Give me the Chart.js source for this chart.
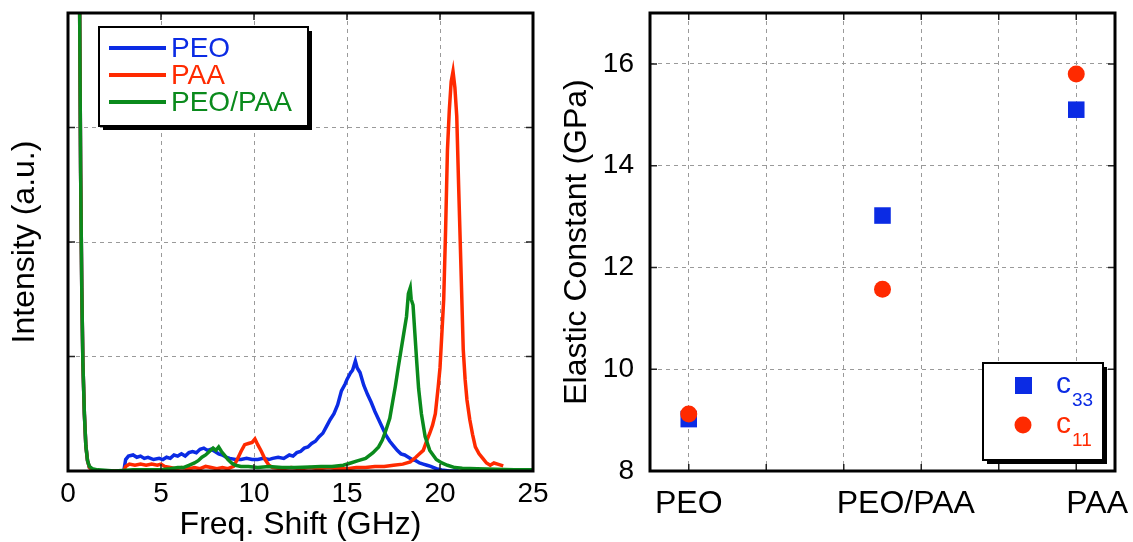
<!DOCTYPE html>
<html>
<head>
<meta charset="utf-8">
<title>Brillouin spectra and elastic constants</title>
<script src="https://cdn.jsdelivr.net/npm/chart.js@4.4.0/dist/chart.umd.min.js"></script>
<style>
  html, body { margin: 0; padding: 0; background: #fff; }
  #wrap { position: relative; width: 1133px; height: 542px; overflow: hidden; }
  #spec { position: absolute; left: 0; top: 0; }
  #elastic { position: absolute; left: 560px; top: 0; }
</style>
</head>
<body>
<div id="wrap">
  <canvas id="spec" width="560" height="542" style="width:560px;height:542px"></canvas>
  <canvas id="elastic" width="573" height="542" style="width:573px;height:542px"></canvas>
</div>
<script>
// Spectra: [frequency shift (GHz), intensity (a.u.)]
const peoSpectrum = [
  [0.55, 5], [0.62, 4.2], [0.68, 2.6], [0.74, 1.6], [0.8, 0.95], [0.88, 0.5], [0.96, 0.22], [1.05, 0.09],
  [1.15, 0.03], [1.3, 0.01], [1.6, 0], [2.2, 0], [3.0, 0], [3.1, 0.1], [3.25, 0.13], [3.5, 0.14],
  [3.7, 0.12], [3.9, 0.13], [4.1, 0.11], [4.3, 0.12], [4.6, 0.1], [4.9, 0.11], [5.1, 0.1], [5.3, 0.12],
  [5.5, 0.11], [5.7, 0.14], [5.9, 0.13], [6.1, 0.15], [6.3, 0.13], [6.5, 0.16], [6.7, 0.17], [6.9, 0.16],
  [7.1, 0.19], [7.3, 0.2], [7.5, 0.18], [7.7, 0.19], [7.9, 0.17], [8.1, 0.15], [8.3, 0.14], [8.5, 0.12],
  [8.7, 0.11], [9.0, 0.1], [9.3, 0.1], [9.6, 0.11], [9.9, 0.1], [10.2, 0.1], [10.5, 0.11], [10.8, 0.1],
  [11.0, 0.11], [11.3, 0.12], [11.6, 0.11], [11.9, 0.14], [12.1, 0.13], [12.3, 0.16], [12.5, 0.17],
  [12.7, 0.2], [12.9, 0.21], [13.1, 0.24], [13.3, 0.26], [13.5, 0.3], [13.7, 0.33], [13.9, 0.39],
  [14.1, 0.45], [14.3, 0.5], [14.5, 0.58], [14.7, 0.7], [14.9, 0.76], [15.0, 0.8], [15.1, 0.83],
  [15.2, 0.86], [15.3, 0.88], [15.45, 0.96], [15.55, 0.9], [15.7, 0.86], [15.9, 0.75], [16.1, 0.67],
  [16.3, 0.6], [16.5, 0.52], [16.7, 0.45], [16.9, 0.38], [17.1, 0.31], [17.3, 0.26], [17.5, 0.22],
  [17.7, 0.18], [17.9, 0.15], [18.1, 0.14], [18.3, 0.12], [18.5, 0.1], [18.7, 0.09], [18.9, 0.07],
  [19.1, 0.06], [19.3, 0.05], [19.5, 0.04], [19.8, 0.02], [20.1, 0.01], [20.5, 0], [21.0, 0]
];
const paaSpectrum = [
  [0.55, 5], [0.62, 4.2], [0.68, 2.6], [0.74, 1.6], [0.8, 0.95], [0.88, 0.5], [0.96, 0.22], [1.05, 0.09],
  [1.15, 0.03], [1.3, 0.01], [1.6, 0], [2.2, 0], [3.0, 0], [3.1, 0.04], [3.3, 0.06], [3.6, 0.05],
  [3.9, 0.06], [4.2, 0.05], [4.5, 0.06], [4.8, 0.05], [5.0, 0.06], [5.2, 0.04], [5.5, 0.03], [5.8, 0.02],
  [6.1, 0.03], [6.5, 0.02], [6.8, 0.03], [7.1, 0.02], [7.4, 0.04], [7.7, 0.03], [8.0, 0.02], [8.3, 0.03],
  [8.6, 0.02], [8.9, 0.04], [9.1, 0.1], [9.3, 0.17], [9.5, 0.23], [9.7, 0.24], [9.9, 0.25], [10.05, 0.28],
  [10.2, 0.23], [10.4, 0.17], [10.6, 0.1], [10.8, 0.05], [11.0, 0.03], [11.5, 0.02], [12.0, 0.03],
  [12.5, 0.02], [13.0, 0.03], [13.5, 0.02], [14.0, 0.03], [14.5, 0.02], [15.0, 0.02], [15.5, 0.03],
  [16.0, 0.03], [16.5, 0.04], [17.0, 0.04], [17.5, 0.05], [18.0, 0.06], [18.4, 0.08], [18.7, 0.12],
  [18.9, 0.15], [19.1, 0.18], [19.3, 0.27], [19.45, 0.33], [19.6, 0.4], [19.75, 0.5], [19.9, 0.73],
  [20.0, 0.9], [20.1, 1.2], [20.2, 1.5], [20.3, 2.1], [20.4, 2.8], [20.5, 3.15], [20.6, 3.4], [20.7, 3.49],
  [20.8, 3.35], [20.9, 3.1], [21.0, 2.5], [21.1, 1.93], [21.25, 1.06], [21.35, 0.8], [21.45, 0.62],
  [21.6, 0.45], [21.75, 0.32], [21.9, 0.21], [22.1, 0.15], [22.3, 0.11], [22.5, 0.07], [22.7, 0.05],
  [22.9, 0.07], [23.1, 0.06], [23.4, 0.045]
];
const blendSpectrum = [
  [0.55, 5], [0.62, 4.2], [0.68, 2.6], [0.74, 1.6], [0.8, 0.95], [0.88, 0.5], [0.96, 0.22], [1.05, 0.09],
  [1.15, 0.04], [1.3, 0.02], [1.6, 0.01], [2.5, 0], [3.5, 0.01], [4.5, 0.01], [5.0, 0.01], [5.5, 0.02],
  [5.9, 0.03], [6.2, 0.03], [6.5, 0.05], [6.8, 0.07], [7.0, 0.09], [7.2, 0.12], [7.4, 0.14], [7.6, 0.17],
  [7.8, 0.2], [7.95, 0.18], [8.1, 0.21], [8.25, 0.17], [8.4, 0.14], [8.6, 0.1], [8.8, 0.07], [9.0, 0.05],
  [9.3, 0.04], [9.7, 0.04], [10.2, 0.03], [10.8, 0.04], [11.5, 0.03], [12.2, 0.03], [13.0, 0.035],
  [13.6, 0.04], [14.2, 0.04], [14.8, 0.05], [15.2, 0.07], [15.6, 0.09], [16.0, 0.11], [16.4, 0.16],
  [16.7, 0.21], [16.9, 0.27], [17.1, 0.36], [17.3, 0.46], [17.45, 0.6], [17.6, 0.74], [17.75, 0.9],
  [17.9, 1.05], [18.05, 1.2], [18.2, 1.35], [18.3, 1.55], [18.4, 1.6], [18.45, 1.5], [18.55, 1.45],
  [18.65, 1.2], [18.75, 0.95], [18.85, 0.72], [19.0, 0.5], [19.2, 0.3], [19.45, 0.18], [19.8, 0.1],
  [20.1, 0.07], [20.4, 0.05], [20.8, 0.03], [21.2, 0.025], [22, 0.02], [23, 0.015], [24, 0.01], [25, 0.01]
];
const freqTicks = [0, 5, 10, 15, 20, 25];
const intensityTicks = [0, 1, 2, 3, 4];

// Elastic constants (GPa) per sample
const materials = ['PEO', 'PEO/PAA', 'PAA'];
const materialPos = [1, 3.5, 6];
const labelPos = [1, 3.8, 6.27];
const c33 = [9.02, 13.02, 15.1];
const c11 = [9.12, 11.57, 15.8];
const gridPos = [1, 2, 3, 4, 5, 6];
const elasticTicks = [8, 10, 12, 14, 16];

const FONT = "'Liberation Sans', Arial, Helvetica, sans-serif";
const BLUE = '#0b2be4';
const RED = '#ff2a00';
const GREEN = '#0a8a1c';
const GRID = { color: '#9a9a9a', lineWidth: 1, drawTicks: false };
const DASH = { display: false, dash: [4, 4] };

const toXY = arr => arr.map(([x, y]) => ({ x, y }));
const setTicks = values => scale => { scale.ticks = values.map(v => ({ value: v })); };
// fixed axis sizes, and no extra room for half-labels at the ends
const fixHeight = h => s => { s.height = h; s.paddingLeft = s.paddingRight = 0; };
const fixWidth = w => s => { s.width = w; s.paddingTop = s.paddingBottom = 0; };

// black frame round the plot area with short inward ticks
const plotFrame = {
  id: 'plotFrame',
  afterDatasetsDraw(chart) {
    const { ctx, chartArea: a, scales } = chart;
    ctx.save();
    ctx.strokeStyle = '#222';
    ctx.lineWidth = 1.5;
    ctx.beginPath();
    scales.x.ticks.forEach(t => {
      const px = scales.x.getPixelForValue(t.value);
      ctx.moveTo(px, a.bottom); ctx.lineTo(px, a.bottom - 7);
      ctx.moveTo(px, a.top); ctx.lineTo(px, a.top + 7);
    });
    scales.y.ticks.forEach(t => {
      const py = scales.y.getPixelForValue(t.value);
      ctx.moveTo(a.left, py); ctx.lineTo(a.left + 7, py);
      ctx.moveTo(a.right, py); ctx.lineTo(a.right - 7, py);
    });
    ctx.stroke();
    ctx.strokeStyle = '#000';
    ctx.lineWidth = 3;
    ctx.strokeRect(a.left, a.top, a.right - a.left, a.bottom - a.top);
    ctx.restore();
  }
};

function shadowBox(ctx, x, y, w, h) {
  ctx.fillStyle = '#000';
  ctx.fillRect(x + 4, y + 4, w, h);
  ctx.fillStyle = '#fff';
  ctx.fillRect(x, y, w, h);
  ctx.strokeStyle = '#000';
  ctx.lineWidth = 2;
  ctx.strokeRect(x, y, w, h);
}

// legend for the spectra: line sample + coloured name
const lineLegend = {
  id: 'lineLegend',
  afterDraw(chart) {
    const ctx = chart.ctx;
    ctx.save();
    shadowBox(ctx, 99, 27, 209, 99);
    ctx.font = '28px ' + FONT;
    ctx.textBaseline = 'middle';
    ctx.textAlign = 'left';
    chart.data.datasets.forEach((ds, i) => {
      const y = 48 + i * 27;
      ctx.strokeStyle = ds.borderColor;
      ctx.lineWidth = 4;
      ctx.beginPath(); ctx.moveTo(109, y); ctx.lineTo(166, y); ctx.stroke();
      ctx.fillStyle = ds.borderColor;
      ctx.fillText(ds.label, 171, y + 1);
    });
    ctx.restore();
  }
};

// legend for the elastic constants: marker + c with subscript
const markerLegend = {
  id: 'markerLegend',
  afterDraw(chart) {
    const ctx = chart.ctx;
    ctx.save();
    shadowBox(ctx, 423, 363, 120, 97);
    chart.data.datasets.forEach((ds, i) => {
      const y = 385 + i * 40;
      ctx.fillStyle = ds.backgroundColor;
      if (ds.pointStyle === 'rect') {
        ctx.fillRect(455, y - 8, 17, 17);
      } else {
        ctx.beginPath(); ctx.arc(463, y, 8.5, 0, Math.PI * 2); ctx.fill();
      }
      const [main, sub] = ds.label.split('_');
      ctx.textBaseline = 'alphabetic';
      ctx.textAlign = 'left';
      ctx.font = '30px ' + FONT;
      ctx.fillText(main, 496, y + 8);
      ctx.font = '19px ' + FONT;
      ctx.fillText(sub, 512, y + 21);
    });
    ctx.restore();
  }
};

// sample names under the elastic constant plot
const sampleLabels = {
  id: 'sampleLabels',
  afterDraw(chart) {
    const { ctx, scales } = chart;
    ctx.save();
    ctx.font = '32px ' + FONT;
    ctx.fillStyle = '#000';
    ctx.textAlign = 'center';
    ctx.textBaseline = 'middle';
    materials.forEach((m, i) => ctx.fillText(m, scales.x.getPixelForValue(labelPos[i]), 504));
    ctx.restore();
  }
};

Chart.defaults.font.family = FONT;
Chart.defaults.color = '#000';

new Chart(document.getElementById('spec'), {
  type: 'line',
  data: {
    datasets: [
      { label: 'PEO', data: toXY(peoSpectrum), borderColor: BLUE, order: 3 },
      { label: 'PAA', data: toXY(paaSpectrum), borderColor: RED, order: 2 },
      { label: 'PEO/PAA', data: toXY(blendSpectrum), borderColor: GREEN, order: 1 }
    ].map(d => ({ ...d, borderWidth: 3.5, pointRadius: 0, tension: 0, fill: false }))
  },
  options: {
    responsive: false, animation: false, devicePixelRatio: 1,
    layout: { padding: { top: 13, right: 27, left: 0, bottom: 0 } },
    plugins: { legend: { display: false }, tooltip: { enabled: false } },
    scales: {
      x: {
        type: 'linear', min: 0, max: 25,
        afterBuildTicks: setTicks(freqTicks),
        afterFit: fixHeight(71),
        ticks: { font: { size: 28 }, padding: 6, maxRotation: 0, autoSkip: false },
        grid: GRID, border: DASH,
        title: { display: true, text: 'Freq. Shift (GHz)', font: { size: 32, lineHeight: 1 }, padding: { top: 0, bottom: 1 } }
      },
      y: {
        type: 'linear', min: 0, max: 4,
        afterBuildTicks: setTicks(intensityTicks),
        afterFit: fixWidth(68),
        ticks: { display: false },
        grid: GRID, border: DASH,
        title: { display: true, text: 'Intensity (a.u.)', font: { size: 32, lineHeight: 1 }, padding: { top: 9, bottom: 0 } }
      }
    }
  },
  plugins: [plotFrame, lineLegend]
});

new Chart(document.getElementById('elastic'), {
  type: 'scatter',
  data: {
    datasets: [
      { label: 'c_33', data: materialPos.map((x, i) => ({ x, y: c33[i] })), backgroundColor: BLUE, borderColor: BLUE,
        pointStyle: 'rect', pointRadius: 11.7, order: 2 },
      { label: 'c_11', data: materialPos.map((x, i) => ({ x, y: c11[i] })), backgroundColor: RED, borderColor: RED,
        pointStyle: 'circle', pointRadius: 8.5, order: 1 }
    ].map(d => ({ ...d, borderWidth: 0, pointHoverRadius: d.pointRadius }))
  },
  options: {
    responsive: false, animation: false, devicePixelRatio: 1,
    layout: { padding: { top: 13, right: 18, left: 0, bottom: 0 } },
    plugins: { legend: { display: false }, tooltip: { enabled: false } },
    scales: {
      x: {
        type: 'linear', min: 0.5, max: 6.5,
        afterBuildTicks: setTicks(gridPos),
        afterFit: fixHeight(71),
        ticks: { display: false },
        grid: GRID, border: DASH
      },
      y: {
        type: 'linear', min: 8, max: 17,
        afterBuildTicks: setTicks(elasticTicks),
        afterFit: fixWidth(90),
        ticks: { font: { size: 28 }, padding: 16 },
        grid: GRID, border: DASH,
        title: { display: true, text: 'Elastic Constant (GPa)', font: { size: 32, lineHeight: 1 }, padding: { top: 1, bottom: 0 } }
      }
    }
  },
  plugins: [plotFrame, markerLegend, sampleLabels]
});
</script>
</body>
</html>
